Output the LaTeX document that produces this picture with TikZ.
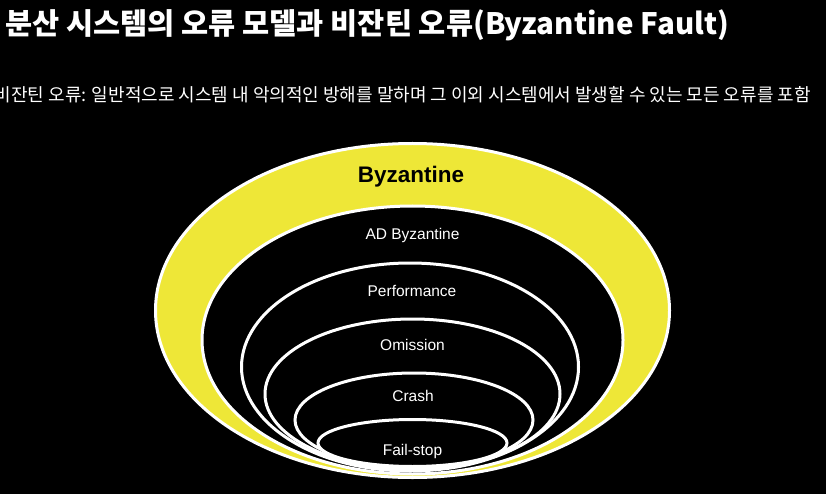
\documentclass[tikz,border=0pt]{standalone}
\usepackage{fontspec}
\setmainfont{Liberation Sans}
\newfontfamily\kr{Noto Sans CJK KR}
\usetikzlibrary{shapes.geometric}
\definecolor{yel}{RGB}{238,231,55}
\tikzset{
  ring/.style={ellipse, draw=white, line width=3pt, fill=black, inner sep=0pt},
  lbl/.style={text=white, font=\fontsize{15.5}{18}\selectfont, anchor=base},
}
\begin{document}
\begin{tikzpicture}[x=1pt,y=-1pt]
\fill[black] (0,0) rectangle (826,494);
\useasboundingbox (0,0) rectangle (826,494);
% title and subtitle
\node[anchor=base west, inner sep=0pt, text=white, font=\kr\bfseries\fontsize{29.5}{34}\selectfont] (title) at (5,35) {분산 시스템의 오류 모델과 비잔틴 오류(Byzantine Fault)};
\node[anchor=base east, inner sep=0pt, text=white, font=\kr\fontsize{18}{21}\selectfont] (sub) at (811,102) {비잔틴 오류: 일반적으로 시스템 내 악의적인 방해를 말하며 그 이외 시스템에서 발생할 수 있는 모든 오류를 포함};
% nested ellipses
\node[ring, fill=yel, minimum width=514pt, minimum height=334pt] (byz) at (412.5,310.5) {};
\node[ring, minimum width=421pt, minimum height=268pt] (ad) at (412.5,340) {};
\node[ring, minimum width=337pt, minimum height=208pt] (perf) at (410,367) {};
\node[ring, minimum width=295pt, minimum height=150pt] (omi) at (412.5,394) {};
\node[ring, minimum width=238pt, minimum height=94pt] (crash) at (414,420) {};
\node[ring, minimum width=189pt, minimum height=47pt] (fs) at (412.5,443) {};
% labels
\node[anchor=base, text=black, font=\bfseries\fontsize{22.5}{26}\selectfont] (tbyz) at (411,183) {Byzantine};
\node[lbl] (tad) at (412.5,240) {AD Byzantine};
\node[lbl] (tperf) at (412,296) {Performance};
\node[lbl] (tomi) at (412.5,350.5) {Omission};
\node[lbl] (tcrash) at (413,401) {Crash};
\node[lbl] (tfs) at (412.5,455) {Fail-stop};
\end{tikzpicture}
\end{document}
